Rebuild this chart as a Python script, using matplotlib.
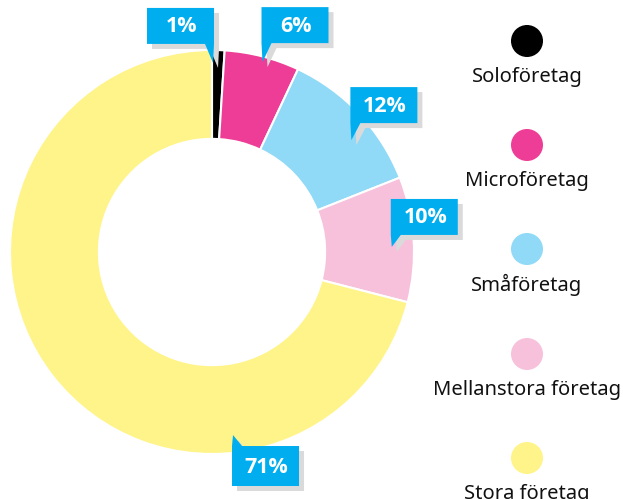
import matplotlib
matplotlib.use("Agg")
import matplotlib.pyplot as plt
from matplotlib.patches import Polygon, Circle
import numpy as np

categories = ["Soloföretag", "Microföretag", "Småföretag", "Mellanstora företag", "Stora företag"]
values = [1, 6, 12, 10, 71]
labels = ["1%", "6%", "12%", "10%", "71%"]
colors = ["#000000", "#EE3D96", "#90D9F7", "#F7C1DB", "#FFF48A"]

W, H = 623, 499
DPI = 100
fig = plt.figure(figsize=(W / DPI, H / DPI), dpi=DPI)

# donut geometry (pixels)
CX, CY, R = 212, 252, 202
half = 210
axp = fig.add_axes([(CX - half) / W, (H - CY - half) / H, 2 * half / W, 2 * half / H])
axp.pie(values, colors=colors, startangle=90, counterclock=False, radius=1,
        wedgeprops=dict(width=0.44, edgecolor="white", linewidth=1.5))
lim = half / R
axp.set_xlim(-lim, lim)
axp.set_ylim(-lim, lim)
axp.set_aspect("equal")
axp.axis("off")

# overlay in pixel coordinates
ov = fig.add_axes([0, 0, 1, 1])
ov.set_xlim(0, W)
ov.set_ylim(H, 0)
ov.axis("off")

# callout anchors in donut units (layout only): tip position, pointer side/direction
anchors = [(0.005, 0.936, "right", "down"),
           (0.25, 0.94, "left", "down"),
           (0.69, 0.554, "left", "down"),
           (0.89, 0.025, "left", "down"),
           (0.104, -0.906, "left", "up")]
gaps = [19, 19, 17, 12, 11]
BW, BH = 67, 36
blue = "#00AEEF"
shadow = "#DADADA"

for lab, (ax_, ay_, side, direc), gap in zip(labels, anchors, gaps):
    tx = CX + ax_ * R
    ty = CY - ay_ * R
    if side == "left":
        x0 = tx - 1
        x1 = x0 + BW
    else:
        x1 = tx + 1
        x0 = x1 - BW
    if direc == "down":
        y1 = ty - gap   # box bottom
        y0 = y1 - BH
        if side == "left":
            pts = [(x0, y0), (x1, y0), (x1, y1), (x0 + 10, y1), (tx, ty), (x0, y1)]
        else:
            pts = [(x0, y0), (x1, y0), (x1, y1), (tx, ty), (x1 - 9, y1), (x0, y1)]
    else:
        y0 = ty + gap
        y1 = y0 + BH + 4
        pts = [(x0, y0), (tx, ty), (x0 + 10, y0), (x1, y0), (x1, y1), (x0, y1)]
    sh = [(x + 5, y + 5) for x, y in pts]
    ov.add_patch(Polygon(sh, closed=True, facecolor=shadow, edgecolor="none", zorder=3))
    ov.add_patch(Polygon(pts, closed=True, facecolor=blue, edgecolor="none", zorder=4))
    ov.text((x0 + x1) / 2 + 1, (y0 + y1) / 2 + 1, lab, color="white", fontsize=15.5,
            fontweight="bold", family="Open Sans", ha="center", va="center", zorder=5)

# legend
LX = 527
ly = [41, 145, 249, 354, 458]
for cat, col, y in zip(categories, colors, ly):
    ov.add_patch(Circle((LX, y), 16, facecolor=col, edgecolor="none", zorder=3))
    ov.text(LX, y + 36, cat, ha="center", va="center", fontsize=14.5,
            family="Noto Sans", color="#111111", zorder=3)

fig.savefig("out.png", dpi=DPI)
